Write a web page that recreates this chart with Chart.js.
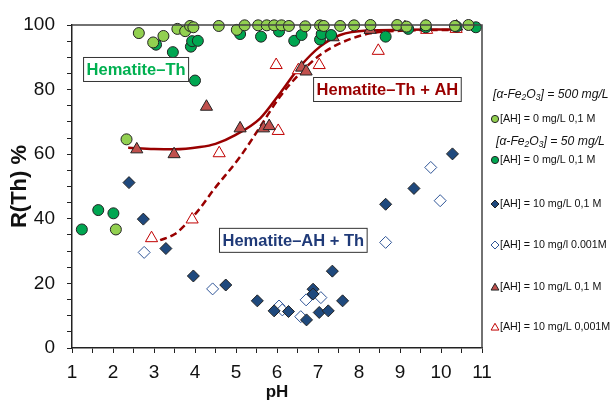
<!DOCTYPE html>
<html><head><meta charset="utf-8">
<script src="https://cdn.jsdelivr.net/npm/chart.js@4"></script>
<style>html,body{margin:0;padding:0;background:#fff;}#wrap{position:relative;width:612px;height:401px;}</style>
</head><body><div id="wrap"><canvas id="c" width="612" height="401"></canvas></div>
<script>
// ---- data ----
const lightGreenPH = [2.07, 2.33, 2.63, 2.98, 3.23, 3.57, 3.76, 3.88, 3.96, 4.58, 5.02, 5.21, 5.54, 5.75, 5.93, 6.11, 6.29, 6.69, 7.05, 7.14, 7.54, 7.88, 8.28, 8.93, 9.16, 9.63, 10.34, 10.67];
const lightGreenR  = [36.7, 64.6, 97.5, 94.6, 96.6, 98.8, 98.1, 99.7, 99.3, 99.7, 98.5, 99.9, 99.9, 99.9, 99.9, 99.9, 99.7, 99.6, 99.9, 99.7, 99.7, 99.9, 100, 100, 99.5, 99.9, 99.7, 100];
const darkGreenPH = [1.24, 1.64, 2.01, 3.05, 3.46, 3.90, 3.93, 4.07, 4.00, 5.10, 5.61, 6.05, 6.42, 6.60, 7.05, 7.09, 7.32, 8.65, 9.20, 9.63, 10.38, 10.85];
const darkGreenR  = [36.7, 42.7, 41.7, 93.9, 91.6, 93.3, 95.0, 95.1, 82.8, 97.2, 96.4, 98.0, 95.1, 96.9, 95.5, 97.2, 96.9, 96.4, 98.8, 99.3, 99.5, 99.3];
const ahHighPH = [2.39, 2.74, 3.29, 3.96, 4.75, 5.52, 5.93, 6.28, 6.72, 6.88, 6.88, 7.03, 7.25, 7.35, 7.60, 8.65, 9.34, 10.28];
const ahHighR  = [51.2, 39.9, 30.8, 22.3, 19.5, 14.6, 11.5, 11.3, 8.7, 18.2, 16.7, 11.0, 11.5, 23.8, 14.6, 44.5, 49.4, 60.1];
const ahLowPH = [2.76, 4.43, 6.05, 6.13, 6.58, 6.71, 7.07, 8.65, 9.75, 9.98];
const ahLowR  = [29.6, 18.3, 13.0, 11.8, 9.7, 14.9, 15.6, 32.7, 55.9, 45.6];
const thAhHighPH = [2.58, 3.49, 4.28, 5.10, 5.67, 5.81, 6.60, 6.71, 7.37, 8.27, 9.12, 9.63, 10.38];
const thAhHighR  = [61.5, 60.0, 74.7, 68.0, 68.0, 68.7, 86.8, 85.6, 96.2, 98.5, 99.3, 99.5, 99.5];
const thAhLowPH = [2.94, 3.93, 4.59, 5.98, 6.03, 6.52, 7.03, 8.47, 9.65, 10.37];
const thAhLowR  = [34.0, 39.8, 60.3, 87.6, 67.2, 86.0, 87.6, 92.0, 98.5, 98.8];
const fitHighPH = [2.37, 3.0, 3.5, 4.12, 4.5, 4.98, 5.59, 6.07, 6.56, 7.05, 7.54, 8.19, 9.0, 10.4];
const fitHighR  = [62.0, 61.6, 61.5, 62.2, 63.2, 65.9, 71.1, 78.8, 87.1, 93.3, 96.9, 98.3, 98.5, 98.6];
const fitLowPH = [3.15, 3.5, 3.8, 4.12, 4.45, 5.10, 5.59, 6.07, 6.56, 7.05, 7.62, 8.27, 9.0, 10.4];
const fitLowR  = [33.4, 35.2, 38.6, 43.2, 48.9, 59.2, 68.5, 77.8, 85.0, 90.7, 94.8, 97.4, 98.2, 98.5];
const xTickValues = [1, 2, 3, 4, 5, 6, 7, 8, 9, 10, 11];
const yTickValues = [0, 20, 40, 60, 80, 100];

const FONT = "'Liberation Sans', Arial, sans-serif";
const pts = (xs, ys) => xs.map((x, i) => ({x: x, y: ys[i]}));

const C = {
  lightGreen: '#92d050', darkGreen: '#00a651', navy: '#1f497d', blueOpen: '#2f5597',
  redFill: '#c0504d', redOpen: '#c00000', curve: '#990000', outline: '#222222'
};

function markerDS(label, data, style, bg, border, radius, order) {
  return { label, data, showLine: false, pointStyle: style, pointRadius: radius, pointHoverRadius: radius,
    pointBackgroundColor: bg, pointBorderColor: border, pointBorderWidth: 1, clip: false, order: order };
}

const datasets = [
  { label: 'fit 0,1 M', data: pts(fitHighPH, fitHighR), showLine: true, borderColor: C.curve, borderWidth: 2.5,
    pointRadius: 0, cubicInterpolationMode: 'monotone', fill: false, order: 10, clip: false },
  { label: 'fit 0,001 M', data: pts(fitLowPH, fitLowR), showLine: true, borderColor: C.curve, borderWidth: 2.5,
    borderDash: [7, 4], pointRadius: 0, cubicInterpolationMode: 'monotone', fill: false, order: 10, clip: false },
  markerDS('[AH] = 10 mg/L 0,001M', pts(thAhLowPH, thAhLowR), 'triangle', '#ffffff', C.redOpen, 7, 5),
  markerDS('[AH] = 10 mg/L 0,1 M', pts(thAhHighPH, thAhHighR), 'triangle', C.redFill, C.outline, 7, 4),
  markerDS('[AH] = 10 mg/l 0.001M', pts(ahLowPH, ahLowR), 'rectRot', '#ffffff', C.blueOpen, 6, 3),
  markerDS('[AH] = 10 mg/L 0,1 M', pts(ahHighPH, ahHighR), 'rectRot', C.navy, C.outline, 6, 2),
  markerDS('[AH] = 0 mg/L 0,1 M (50)', pts(darkGreenPH, darkGreenR), 'circle', C.darkGreen, C.outline, 5.5, 1),
  markerDS('[AH] = 0 mg/L 0,1 M (500)', pts(lightGreenPH, lightGreenR), 'circle', C.lightGreen, C.outline, 5.5, 0)
];

const annotations = [
  { text: 'Hematite\u2013Th', color: '#00b050', x: 1.27, y: 90.1 },
  { text: 'Hematite\u2013Th + AH', color: '#990000', x: 6.88, y: 83.9 },
  { text: 'Hematite\u2013AH + Th', color: '#1f3a78', x: 4.585, y: 37.2 }
];

const legendItems = [
  { type: 'header', parts: [['[\u03b1-Fe'], ['2', 1], ['O'], ['3', 1], ['] = 500 mg/L']], y: 95, x: 493 },
  { type: 'item', style: 'circle', bg: C.lightGreen, border: C.outline, text: '[AH] = 0 mg/L 0,1 M', y: 119 },
  { type: 'header', parts: [['[\u03b1-Fe'], ['2', 1], ['O'], ['3', 1], ['] = 50 mg/L']], y: 142, x: 496 },
  { type: 'item', style: 'circle', bg: C.darkGreen, border: C.outline, text: '[AH] = 0 mg/L 0,1 M', y: 160 },
  { type: 'item', style: 'rectRot', bg: C.navy, border: C.outline, text: '[AH] = 10 mg/L 0,1 M', y: 204 },
  { type: 'item', style: 'rectRot', bg: '#ffffff', border: C.blueOpen, text: '[AH] = 10 mg/l 0.001M', y: 245 },
  { type: 'item', style: 'triangle', bg: C.redFill, border: C.outline, text: '[AH] = 10 mg/L 0,1 M', y: 287 },
  { type: 'item', style: 'triangle', bg: '#ffffff', border: C.redOpen, text: '[AH] = 10 mg/L 0,001M', y: 327 }
];

const decor = {
  id: 'decor',
  afterDraw(chart) {
    const ctx = chart.ctx, a = chart.chartArea, xs = chart.scales.x, ys = chart.scales.y;
    ctx.save();
    // frame top/right
    ctx.strokeStyle = '#444'; ctx.lineWidth = 1.5;
    ctx.beginPath();
    ctx.moveTo(a.left, a.top); ctx.lineTo(a.right, a.top); ctx.lineTo(a.right, a.bottom);
    ctx.stroke();
    // annotation boxes
    ctx.font = 'bold 16.5px ' + FONT;
    ctx.textBaseline = 'middle'; ctx.textAlign = 'left';
    annotations.forEach(an => {
      const px = xs.getPixelForValue(an.x), py = ys.getPixelForValue(an.y);
      const w = ctx.measureText(an.text).width + 6, h = 24;
      ctx.fillStyle = '#fff'; ctx.fillRect(px, py, w, h);
      ctx.strokeStyle = '#333'; ctx.lineWidth = 1; ctx.strokeRect(px + 0.5, py + 0.5, w, h);
      ctx.fillStyle = an.color; ctx.fillText(an.text, px + 3.5, py + h / 2 + 1.5);
    });
    // legend
    legendItems.forEach(it => {
      if (it.type === 'header') {
        let x = it.x;
        it.parts.forEach(p => {
          const sub = p[1];
          ctx.font = 'italic ' + (sub ? 8.5 : 12.2) + 'px ' + FONT;
          ctx.fillStyle = '#111'; ctx.textBaseline = 'middle';
          ctx.fillText(p[0], x, it.y + (sub ? 3 : 0));
          x += ctx.measureText(p[0]).width;
        });
      } else {
        const r = it.style === 'triangle' ? 4.5 : (it.style === 'rectRot' ? 4 : 3.6);
        ctx.fillStyle = it.bg; ctx.strokeStyle = it.border; ctx.lineWidth = 1;
        Chart.helpers.drawPoint(ctx, { pointStyle: it.style, radius: r, borderWidth: 1 }, 495, it.y + (it.style === 'triangle' ? 0.8 : 0));
        ctx.font = '10.7px ' + FONT; ctx.fillStyle = '#111'; ctx.textBaseline = 'middle';
        ctx.fillText(it.text, 500, it.y);
      }
    });
    ctx.restore();
  }
};

new Chart(document.getElementById('c'), {
  type: 'scatter',
  data: { datasets },
  options: {
    responsive: false, animation: false, devicePixelRatio: 1,
    layout: { padding: { top: 25, right: 130, left: 0, bottom: 0 } },
    plugins: { legend: { display: false }, tooltip: { enabled: false } },
    scales: {
      x: {
        type: 'linear', min: 1, max: 11,
        ticks: { stepSize: 0.5, autoSkip: false, maxRotation: 0, padding: 8, color: '#111',
          font: { family: FONT, size: 19 },
          callback: v => xTickValues.includes(v) ? String(v) : '' },
        grid: { drawOnChartArea: false, drawTicks: true, tickLength: 5, color: '#222', lineWidth: 1 },
        border: { display: true, color: '#222', width: 1.5 },
        title: { display: true, text: 'pH', color: '#111', font: { family: FONT, size: 17, weight: 'bold', lineHeight: 1 }, padding: { top: 0, bottom: 0 } },
        afterFit: s => { s.height = 53; }
      },
      y: {
        type: 'linear', min: 0, max: 100,
        ticks: { stepSize: 5, autoSkip: false, padding: 12, color: '#111',
          font: { family: FONT, size: 19 },
          callback: v => yTickValues.includes(v) ? String(v) : '' },
        grid: { drawOnChartArea: false, drawTicks: true, tickLength: 5, color: '#222', lineWidth: 1 },
        border: { display: true, color: '#222', width: 1.5 },
        title: { display: true, text: 'R(Th) %', color: '#111', font: { family: FONT, size: 22, weight: 'bold', lineHeight: 1.2 }, padding: { top: 7, bottom: 0 } },
        afterFit: s => { s.width = 72; }
      }
    }
  },
  plugins: [decor]
});
</script>
</body></html>
